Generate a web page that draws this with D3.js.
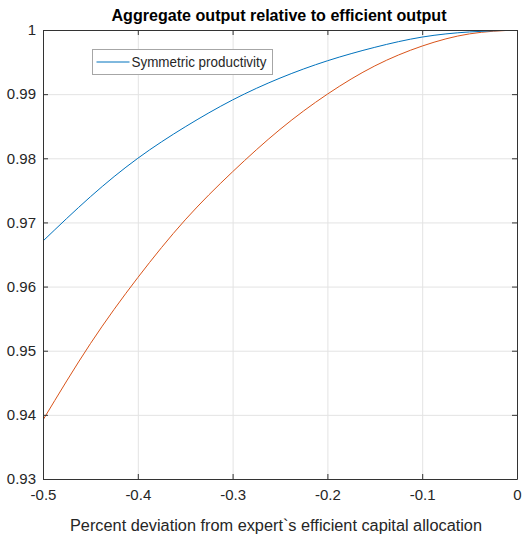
<!DOCTYPE html>
<html>
<head>
<meta charset="utf-8">
<script src="https://cdn.jsdelivr.net/npm/d3@7"></script>
<style>
  body { margin: 0; background: #fff; }
  svg text { font-family: "Liberation Sans Narrow", "Liberation Sans", Arial, sans-serif; fill: #262626; }
</style>
</head>
<body>
<div id="chart"></div>
<script>
// values
var xValues = [-0.5, -0.45, -0.4, -0.35, -0.3, -0.25, -0.2, -0.15, -0.1, -0.05, 0];
var symmetric = [0.9671, 0.9740, 0.9800, 0.9849, 0.9891, 0.9925, 0.9952, 0.9973, 0.9989, 0.9997, 1.0];
var asymmetric = [0.9392, 0.9511, 0.9614, 0.9704, 0.9779, 0.9845, 0.9900, 0.9944, 0.9975, 0.9994, 1.0];
var xTicks = [-0.5, -0.4, -0.3, -0.2, -0.1, 0];
var yTicks = [0.93, 0.94, 0.95, 0.96, 0.97, 0.98, 0.99, 1];
var legendLabels = ["Symmetric productivity"];

var W = 523, H = 536;
var margin = { top: 30, right: 6, bottom: 57, left: 43 };
var width = W - margin.left - margin.right;
var height = H - margin.top - margin.bottom;

var svg = d3.select("#chart").append("svg")
  .attr("width", W)
  .attr("height", H);

var g = svg.append("g")
  .attr("transform", "translate(" + margin.left + "," + margin.top + ")");

var x = d3.scaleLinear().domain([-0.5, 0]).range([0, width]);
var y = d3.scaleLinear().domain([0.93, 1]).range([height, 0]);

// matlab style labels, plain hyphen for minus
function fmt(d, n) {
  if (d === 0 || d === 1) return String(d);
  return d.toFixed(n).replace("\u2212", "-");
}

// grid
g.append("g")
  .attr("class", "grid")
  .attr("transform", "translate(0," + height + ")")
  .call(d3.axisBottom(x).tickValues(xTicks).tickSize(-height).tickFormat(""))
  .call(function (s) { s.select(".domain").remove(); })
  .selectAll("line").attr("stroke", "#e3e3e3");

g.append("g")
  .attr("class", "grid")
  .call(d3.axisLeft(y).tickValues(yTicks).tickSize(-width).tickFormat(""))
  .call(function (s) { s.select(".domain").remove(); })
  .selectAll("line").attr("stroke", "#e3e3e3");

// lines
g.append("clipPath").attr("id", "clip")
  .append("rect").attr("width", width).attr("height", height);

var line = d3.line()
  .x(function (d, i) { return x(xValues[i]); })
  .y(function (d) { return y(d); })
  .curve(d3.curveNatural);

g.append("path")
  .datum(asymmetric)
  .attr("clip-path", "url(#clip)")
  .attr("fill", "none")
  .attr("stroke", "#D95319")
  .attr("stroke-width", 1)
  .attr("d", line);

g.append("path")
  .datum(symmetric)
  .attr("clip-path", "url(#clip)")
  .attr("fill", "none")
  .attr("stroke", "#0072BD")
  .attr("stroke-width", 1)
  .attr("d", line);

// axes, ticks pointing inward
var axisColor = "#333";
var xAxis = g.append("g")
  .attr("transform", "translate(0," + height + ")")
  .call(d3.axisBottom(x).tickValues(xTicks).tickSizeInner(-5).tickSizeOuter(0).tickPadding(8)
    .tickFormat(function (d) { return fmt(d, 1); }));
xAxis.selectAll("text").attr("font-size", 15).attr("dy", "0.85em");

var yAxis = g.append("g")
  .call(d3.axisLeft(y).tickValues(yTicks).tickSizeInner(-5).tickSizeOuter(0).tickPadding(7)
    .tickFormat(function (d) { return fmt(d, 2); }));
yAxis.selectAll("text").attr("font-size", 15);

g.append("g")
  .call(d3.axisTop(x).tickValues(xTicks).tickSizeInner(-5).tickSizeOuter(0).tickFormat(""));
g.append("g")
  .attr("transform", "translate(" + width + ",0)")
  .call(d3.axisRight(y).tickValues(yTicks).tickSizeInner(-5).tickSizeOuter(0).tickFormat(""));

g.selectAll(".domain").attr("stroke", axisColor);
g.selectAll(".tick line").filter(function () { return !this.closest(".grid"); })
  .attr("stroke", axisColor);

// title and x label
svg.append("text")
  .attr("x", margin.left + width / 2 - 1)
  .attr("y", 21)
  .attr("text-anchor", "middle")
  .attr("font-size", 16)
  .attr("font-weight", "bold")
  .attr("textLength", 335)
  .attr("lengthAdjust", "spacingAndGlyphs")
  .style("fill", "#000")
  .text("Aggregate output relative to efficient output");

svg.append("text")
  .attr("x", 276)
  .attr("y", 531)
  .attr("text-anchor", "middle")
  .attr("font-size", 16)
  .attr("textLength", 412)
  .attr("lengthAdjust", "spacingAndGlyphs")
  .text("Percent deviation from expert`s efficient capital allocation");

// legend
var legend = svg.append("g").attr("transform", "translate(92.5,49.5)");
legend.append("rect")
  .attr("width", 180)
  .attr("height", 25)
  .attr("fill", "#fff")
  .attr("stroke", "#a6a6a6");
legend.append("line")
  .attr("x1", 4).attr("x2", 37)
  .attr("y1", 12.5).attr("y2", 12.5)
  .attr("stroke", "#0072BD");
legend.append("text")
  .attr("x", 39)
  .attr("y", 17.5)
  .attr("font-size", 14)
  .attr("textLength", 135)
  .attr("lengthAdjust", "spacingAndGlyphs")
  .text(legendLabels[0]);
</script>
</body>
</html>
